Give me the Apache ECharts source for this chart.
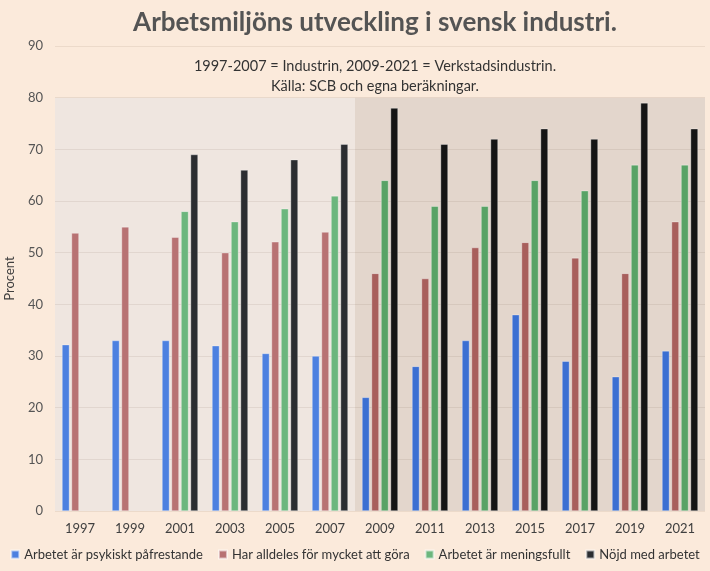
<!DOCTYPE html>
<html>
<head>
<meta charset="utf-8">
<script src="https://cdn.jsdelivr.net/npm/echarts@6/dist/echarts.min.js"></script>
<style>
html,body{margin:0;padding:0;background:#fbeadb;}
#c{width:710px;height:571px;}
</style>
</head>
<body>
<div id="c"></div>
<script>
const years = ['1997','1999','2001','2003','2005','2007','2009','2011','2013','2015','2017','2019','2021'];
const seriesNames = ['Arbetet är psykiskt påfrestande','Har alldeles för mycket att göra','Arbetet är meningsfullt','Nöjd med arbetet'];
const psykiskt = [32.2, 33, 33, 32, 30.5, 30, 22, 28, 33, 38, 29, 26, 31];
const mycket = [53.8, 55, 53, 50, 52.1, 54, 46, 45, 51, 52, 49, 46, 56];
const meningsfullt = [null, null, 58, 56, 58.5, 61, 64, 59, 59, 64, 62, 67, 67];
const nojd = [null, null, 69, 66, 68, 71, 78, 71, 72, 74, 72, 79, 74];
const periodLabels = ['1997-2007 = Industrin, 2009-2021 = Verkstadsindustrin.', 'Källa: SCB och egna beräkningar.'];
const firstPeriodEnd = 5; // index of 2007
const shadeTop = 80;

const colorsA = ['#4c80e0', '#b87273', '#6cb67d', '#2b2d31'];
const colorsB = ['#3b6fd2', '#a85f5c', '#58a366', '#151515'];
const shadeColors = ['#efe6e0', '#e3d6cc'];
const FONT = 'Lato';

function mk(arr, k) {
  return arr.map((v, i) => ({
    value: v,
    itemStyle: { color: i <= firstPeriodEnd ? colorsA[k] : colorsB[k] }
  }));
}

const chart = echarts.init(document.getElementById('c'), null, {renderer: 'canvas'});
const valueSets = [psykiskt, mycket, meningsfullt, nojd];

const barSeries = valueSets.map((arr, k) => ({
  name: seriesNames[k],
  type: 'bar',
  xAxisIndex: 0,
  yAxisIndex: 0,
  barWidth: 7.5,
  barGap: '27%',
  itemStyle: { color: colorsA[k], borderColor: 'rgba(255,255,255,0.55)', borderWidth: 0.6 },
  data: mk(arr, k),
  z: 3
}));

const periods = [[-0.5, firstPeriodEnd + 0.5, 0], [firstPeriodEnd + 0.5, years.length - 0.5, 1]];

chart.setOption({
  backgroundColor: '#fbeadb',
  textStyle: { fontFamily: FONT },
  title: [
    { text: 'Arbetsmiljöns utveckling i svensk industri.', left: 370, textAlign: 'center', top: 5,
      textStyle: { fontFamily: FONT, fontSize: 26, fontWeight: 'bold', color: '#545454' } },
    { text: periodLabels.join('\n'), left: 370, textAlign: 'center', top: 51,
      textStyle: { fontFamily: FONT, fontSize: 14.5, fontWeight: 'normal', color: '#333', lineHeight: 20 } }
  ],
  legend: {
    data: seriesNames,
    bottom: 10,
    left: 'center',
    padding: 0,
    icon: 'rect',
    itemWidth: 8,
    itemHeight: 8,
    itemGap: 15,
    textStyle: { fontFamily: FONT, fontSize: 13, color: '#333' }
  },
  grid: { left: 55, right: 5, top: 46, bottom: 60, outerBoundsMode: 'none', containLabel: false },
  xAxis: [
    { type: 'category', data: years,
      axisLine: { show: false }, axisTick: { show: false },
      axisLabel: { fontFamily: FONT, fontSize: 13, color: '#404040', margin: 11 } },
    { type: 'value', min: -0.5, max: years.length - 0.5, show: false,
      axisLine: { show: false }, splitLine: { show: false } }
  ],
  yAxis: {
    type: 'value', min: 0, max: 90, interval: 10,
    name: 'Procent', nameLocation: 'middle', nameGap: 39,
    axisLine: { show: false, onZero: false },
    axisTick: { show: false },
    nameTextStyle: { fontFamily: FONT, fontSize: 13, color: '#404040' },
    axisLabel: { fontFamily: FONT, fontSize: 13, color: '#555', margin: 12 },
    splitLine: { lineStyle: { color: 'rgba(110,80,60,0.10)', width: 1 } }
  },
  series: [
    {
      type: 'custom', xAxisIndex: 1, yAxisIndex: 0, silent: true, z: -1,
      data: periods,
      encode: { x: [0, 1] },
      renderItem: function (params, api) {
        const p0 = api.coord([api.value(0), shadeTop]);
        const p1 = api.coord([api.value(1), 0]);
        return {
          type: 'rect',
          shape: { x: p0[0], y: p0[1], width: p1[0] - p0[0], height: p1[1] - p0[1] },
          style: { fill: shadeColors[api.value(2)] }
        };
      }
    },
    ...barSeries
  ]
});
</script>
</body>
</html>
